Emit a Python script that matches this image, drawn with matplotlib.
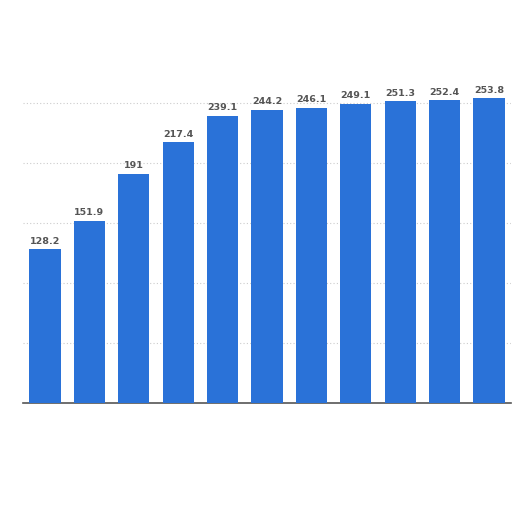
import matplotlib
matplotlib.use("Agg")
from matplotlib import pyplot as plt
import numpy as np

# values (the last three labels are partly hidden)
years = ["1", "2", "3", "4", "5", "6", "7", "8", "9", "10", "11"]
values = [128.2, 151.9, 191, 217.4, 239.1, 244.2, 246.1, 249.1, 251.3, 252.4, 253.8]
labels = ["128.2", "151.9", "191", "217.4", "239.1", "244.2", "246.1", "249.1", "251.3", "252.4", "253.8"]

bar_color = "#2a72d8"

fig = plt.figure(figsize=(5.12, 5.12), dpi=100)
ax = fig.add_axes([0.0445, 0.213, 0.954, 0.703])

x = np.arange(len(values))
ax.bar(x, values, width=0.7, color=bar_color, zorder=3)

for xi, v, lab in zip(x, values, labels):
    ax.text(xi, v + 3, lab, ha="center", va="bottom", fontsize=6.8,
            fontweight="bold", color="#555555", zorder=4)

ax.set_xlim(-0.5, len(values) - 0.5)
ax.set_ylim(0, 300)
ax.set_yticks([0, 50, 100, 150, 200, 250])
ax.yaxis.grid(True, linestyle=(0, (1, 2)), color="#cccccc", linewidth=0.8, zorder=0)

ax.set_xticks([])
ax.set_yticklabels([])
ax.tick_params(left=False, bottom=False)
for side in ["top", "right", "left"]:
    ax.spines[side].set_visible(False)
ax.spines["bottom"].set_color("#555555")
ax.spines["bottom"].set_linewidth(1.2)

fig.savefig("out.png", dpi=100)
